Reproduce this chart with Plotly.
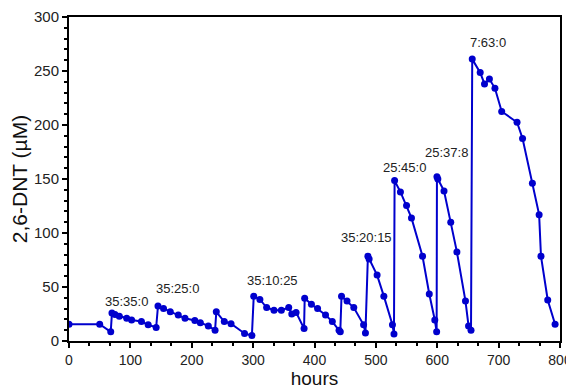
import plotly.graph_objects as go

hours = [0, 50, 68, 70, 75, 82, 94, 102, 118, 129, 142,
         145, 154, 165, 178, 189, 205, 214, 227, 238,
         240, 253, 264, 286, 298,
         301, 311, 322, 334, 346, 358, 363, 370, 383,
         384, 395, 405, 418, 429, 440, 442,
         444, 453, 464, 480, 483,
         487, 489, 502, 513, 527, 529.5,
         530.5, 540, 550, 558, 576, 587, 596, 599,
         599.5, 601, 611, 622, 632, 646, 651, 655,
         657, 670, 677, 685, 694, 705, 730, 739, 755, 766, 769, 780, 792]
dnt = [15.5, 15.5, 8.5, 26, 24.5, 23, 21, 19.5, 18, 15, 12.5,
       32.5, 30, 27, 24, 21, 19, 17, 14, 10,
       27, 18, 16, 7, 5,
       41.5, 38.5, 31, 28.5, 28.5, 31, 25, 26.5, 11.5,
       39.5, 34, 30, 24, 18, 10, 8.5,
       41.5, 37, 31, 15, 7.5,
       78.5, 76, 61, 41.5, 15, 6.5,
       148.5, 138, 125.5, 114, 78.5, 43.5, 19.5, 8.5,
       152, 150, 139, 110, 82.5, 37, 14, 10,
       261, 248.5, 238, 242.5, 234, 212.5, 202.5, 187.5, 146, 117, 78.5, 38, 15.5]

label_text = ["35:35:0", "35:25:0", "35:10:25", "35:20:15", "25:45:0", "25:37:8", "7:63:0"]
label_x = [93, 176, 331, 485, 546, 615, 682]
label_y = [37, 49, 56, 96, 160.5, 174.5, 276]

x_ticks = [0, 100, 200, 300, 400, 500, 600, 700, 800]
y_ticks = [0, 50, 100, 150, 200, 250, 300]

FONT = "Liberation Sans, Arial, sans-serif"
BLUE = "#0000CD"

fig = go.Figure()
fig.add_trace(go.Scatter(
    x=hours, y=dnt, mode="lines+markers",
    line=dict(color=BLUE, width=2),
    marker=dict(color=BLUE, size=7),
    showlegend=False,
))

for t, x, y in zip(label_text, label_x, label_y):
    fig.add_annotation(x=x, y=y, text=t, showarrow=False,
                       font=dict(family=FONT, size=13, color="#222222"))

fig.update_xaxes(
    range=[0, 800], tickvals=x_ticks, ticktext=[str(v) for v in x_ticks],
    automargin=False,
    showgrid=False, zeroline=False, showline=True, linecolor="black", linewidth=2,
    mirror=True, ticks="outside", ticklen=5, tickwidth=2, tickcolor="black",
    tickfont=dict(family=FONT, size=14, color="#222222"),
    minor=dict(dtick=100 / 3, tick0=0, ticks="outside", ticklen=3, tickwidth=1.5, tickcolor="black"),
    title=dict(text="hours", font=dict(family=FONT, size=19, color="#111111"), standoff=4),
)
fig.update_yaxes(
    range=[0, 300], tickvals=y_ticks, ticktext=[str(v) for v in y_ticks],
    automargin=False,
    showgrid=False, zeroline=False, showline=True, linecolor="black", linewidth=2,
    mirror=True, ticks="outside", ticklen=5, tickwidth=2, tickcolor="black",
    tickfont=dict(family=FONT, size=15, color="#222222"),
    minor=dict(dtick=10, tick0=0, ticks="outside", ticklen=3, tickwidth=1.5, tickcolor="black"),
    title=dict(text="2,6-DNT (µM)", font=dict(family=FONT, size=21, color="#111111"), standoff=6),
)

# the page body has an 8px margin, so the figure is sized to end at the window edge
fig.update_layout(
    width=566, height=382,
    margin=dict(l=61, r=14, t=9, b=49),
    paper_bgcolor="white", plot_bgcolor="white",
    font=dict(family=FONT),
)

fig.write_html("out.html")
